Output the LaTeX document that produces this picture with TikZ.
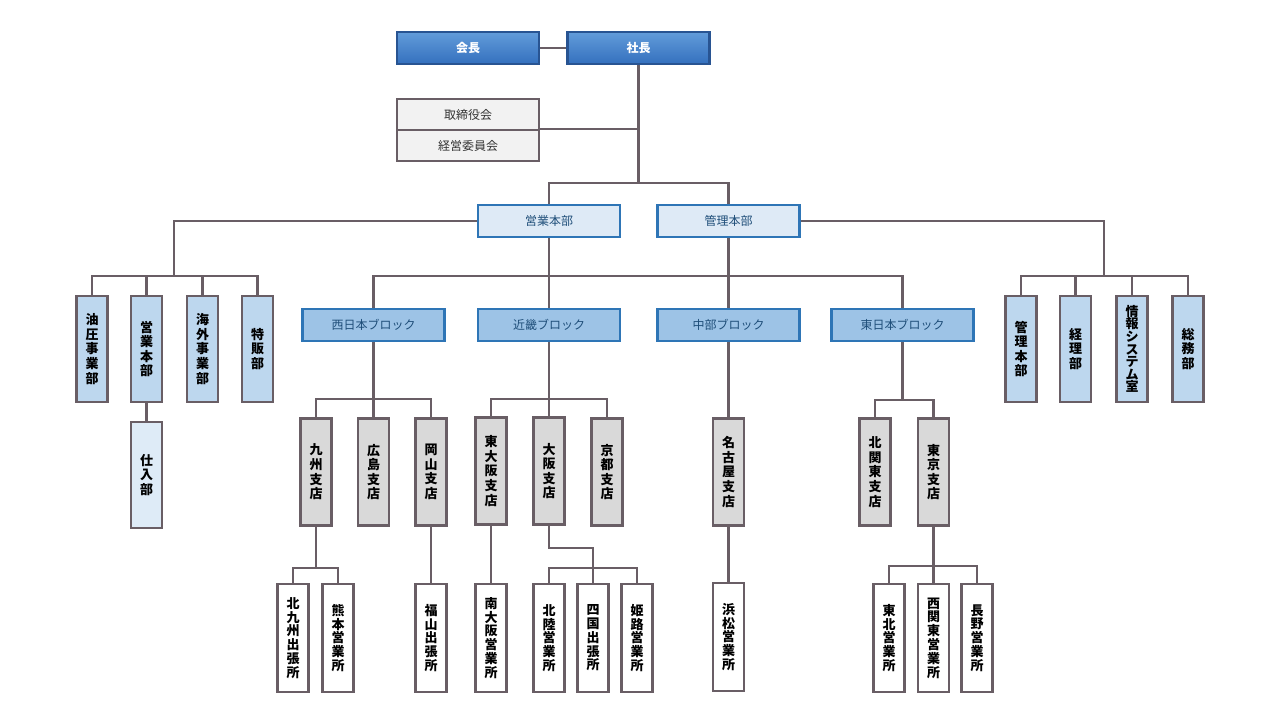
\documentclass[tikz,border=0pt]{standalone}
\usepackage{fontspec}
\newfontfamily\jp{Noto Sans CJK JP}
\definecolor{lin}{RGB}{105,94,101}
\definecolor{hdtop}{RGB}{98,156,218}
\definecolor{hdbot}{RGB}{52,112,190}
\definecolor{hdline}{RGB}{40,84,146}
\definecolor{bluline}{RGB}{46,117,182}
\definecolor{blutxt}{RGB}{31,78,121}
\definecolor{palebox}{RGB}{222,234,246}
\definecolor{blockbox}{RGB}{157,195,230}
\definecolor{sidebox}{RGB}{189,215,238}
\definecolor{shiirebox}{RGB}{222,235,247}
\definecolor{grybox}{RGB}{217,217,217}
\definecolor{brdbox}{RGB}{242,242,242}
\begin{document}
\begin{tikzpicture}[x=1pt,y=-1pt,
		line width=2.2pt,
		every node/.style={inner sep=0pt,font=\jp\fontsize{12}{14}\selectfont,align=center},
		headbox/.style={draw=hdline,top color=hdtop,bottom color=hdbot,text=white,minimum width=142pt,minimum height=32pt,font=\jp\bfseries\fontsize{12}{14}\selectfont},
		boardbox/.style={draw=lin,fill=brdbox,text=black!80,minimum width=142pt,minimum height=31pt,line width=1.8pt},
		honbubox/.style={draw=bluline,fill=palebox,text=blutxt,minimum width=142pt,minimum height=32pt},
		blockbox/.style={draw=bluline,fill=blockbox,text=blutxt,minimum width=142pt,minimum height=32pt},
		tatebox/.style={draw=lin,minimum width=31pt,minimum height=106pt,font=\jp\bfseries\fontsize{13}{14.6}\selectfont},
		sidebox/.style={tatebox,fill=sidebox},
		shitenbox/.style={tatebox,fill=grybox,minimum height=107pt},
		eigyoshobox/.style={tatebox,fill=white,minimum height=108pt,font=\jp\bfseries\fontsize{13}{13.8}\selectfont}]
		\useasboundingbox (0,0) rectangle (1280,720);
		% top
		\node[headbox] (kaicho) at (468,48) {会長};
		\node[headbox] (shacho) at (638.5,48) {社長};
		\node[boardbox] (torishimari) at (468,114.5) {取締役会};
		\node[boardbox] (keiei) at (468,145.5) {経営委員会};
		\node[honbubox] (eigyo) at (549,221) {営業本部};
		\node[honbubox] (kanri) at (728.5,221) {管理本部};
		% left and right departments
		\node[sidebox] (yuatsu) at (92,349) {油\\圧\\事\\業\\部};
		\node[sidebox] (eigyohonbu) at (146.5,349) {営\\業\\本\\部};
		\node[sidebox] (kaigai) at (202.5,349) {海\\外\\事\\業\\部};
		\node[sidebox] (tokuhan) at (257.5,349) {特\\販\\部};
		\node[tatebox,fill=shiirebox] (shiire) at (146.5,475) {仕\\入\\部};
		\node[sidebox] (kanrihonbu) at (1021,349) {管\\理\\本\\部};
		\node[sidebox] (keiri) at (1075.5,349) {経\\理\\部};
		\node[sidebox,font=\jp\bfseries\fontsize{13}{12.6}\selectfont] (joho) at (1132,349) {情\\報\\シ\\ス\\テ\\ム\\室};
		\node[sidebox] (somu) at (1188,349) {総\\務\\部};
		% blocks
		\node[blockbox] (nishi) at (373.5,325) {西日本ブロック};
		\node[blockbox] (kinki) at (549,325) {近畿ブロック};
		\node[blockbox] (chubu) at (728.5,325) {中部ブロック};
		\node[blockbox] (higashi) at (902.5,325) {東日本ブロック};
		% branches
		\node[shitenbox] (kyushu) at (316,472) {九\\州\\支\\店};
		\node[shitenbox] (hiroshima) at (373.5,472) {広\\島\\支\\店};
		\node[shitenbox] (okayama) at (431,472) {岡\\山\\支\\店};
		\node[shitenbox] (higashiosaka) at (491,471) {東\\大\\阪\\支\\店};
		\node[shitenbox] (osaka) at (549,471) {大\\阪\\支\\店};
		\node[shitenbox] (kyoto) at (607,472) {京\\都\\支\\店};
		\node[shitenbox] (nagoya) at (728.5,472) {名\\古\\屋\\支\\店};
		\node[shitenbox] (kitakanto) at (875,472) {北\\関\\東\\支\\店};
		\node[shitenbox] (tokyo) at (933.5,472) {東\\京\\支\\店};
		% sales offices
		\node[eigyoshobox] (kitakyushu) at (293,638) {北\\九\\州\\出\\張\\所};
		\node[eigyoshobox] (kumamoto) at (338,638) {熊\\本\\営\\業\\所};
		\node[eigyoshobox] (fukuyama) at (431,638) {福\\山\\出\\張\\所};
		\node[eigyoshobox] (minamiosaka) at (491,638) {南\\大\\阪\\営\\業\\所};
		\node[eigyoshobox] (hokuriku) at (549,638) {北\\陸\\営\\業\\所};
		\node[eigyoshobox] (shikoku) at (593,638) {四\\国\\出\\張\\所};
		\node[eigyoshobox] (himeji) at (637,638) {姫\\路\\営\\業\\所};
		\node[eigyoshobox] (hamamatsu) at (728.5,637) {浜\\松\\営\\業\\所};
		\node[eigyoshobox] (tohoku) at (889,638) {東\\北\\営\\業\\所};
		\node[eigyoshobox] (nishikanto) at (933.5,638) {西\\関\\東\\営\\業\\所};
		\node[eigyoshobox] (nagano) at (977,638) {長\\野\\営\\業\\所};
		% bus points
		\coordinate (hqbus) at (638.5,183);
		\coordinate (lbus) at (174,276);
		\coordinate (rbus) at (1104,276);
		\coordinate (mbus) at (549,276);
		\coordinate (wbus) at (373.5,399);
		\coordinate (kbus) at (549,399);
		\coordinate (ebus) at (902.5,400);
		\coordinate (qbus) at (316,568);
		\coordinate (okink) at (593,548);
		\coordinate (obus) at (593,568);
		\coordinate (tbus) at (933.5,566);
		% lines
		\begin{scope}[draw=lin]
		\draw (kaicho.east)--(shacho.west);
		\draw (shacho.south)--(hqbus);
		\draw (keiei.north east)--(keiei.north east -| hqbus);
		\draw (eigyo.north) |- (hqbus) -| (kanri.north);
		\draw (eigyo.west) -| (lbus);
		\draw (yuatsu.north) |- (lbus) -| (tokuhan.north);
		\draw (eigyohonbu.north)--(eigyohonbu.north |- lbus);
		\draw (kaigai.north)--(kaigai.north |- lbus);
		\draw (eigyohonbu.south)--(shiire.north);
		\draw (kanri.east) -| (rbus);
		\draw (kanrihonbu.north) |- (rbus) -| (somu.north);
		\draw (keiri.north)--(keiri.north |- rbus);
		\draw (joho.north)--(joho.north |- rbus);
		\draw (nishi.north) |- (mbus) -| (higashi.north);
		\draw (eigyo.south)--(kinki.north);
		\draw (kanri.south)--(chubu.north);
		\draw (nishi.south)--(wbus);
		\draw (kyushu.north) |- (wbus) -| (okayama.north);
		\draw (hiroshima.north)--(hiroshima.north |- wbus);
		\draw (kinki.south)--(osaka.north);
		\draw (higashiosaka.north) |- (kbus) -| (kyoto.north);
		\draw (chubu.south)--(nagoya.north);
		\draw (higashi.south)--(ebus);
		\draw (kitakanto.north) |- (ebus) -| (tokyo.north);
		\draw (kyushu.south)--(qbus);
		\draw (kitakyushu.north) |- (qbus) -| (kumamoto.north);
		\draw (okayama.south)--(fukuyama.north);
		\draw (higashiosaka.south)--(minamiosaka.north);
		\draw (osaka.south) |- (okink)--(shikoku.north);
		\draw (hokuriku.north) |- (obus) -| (himeji.north);
		\draw (nagoya.south)--(hamamatsu.north);
		\draw (tokyo.south)--(nishikanto.north);
		\draw (tohoku.north) |- (tbus) -| (nagano.north);
		\end{scope}
	\end{tikzpicture}
\end{document}
